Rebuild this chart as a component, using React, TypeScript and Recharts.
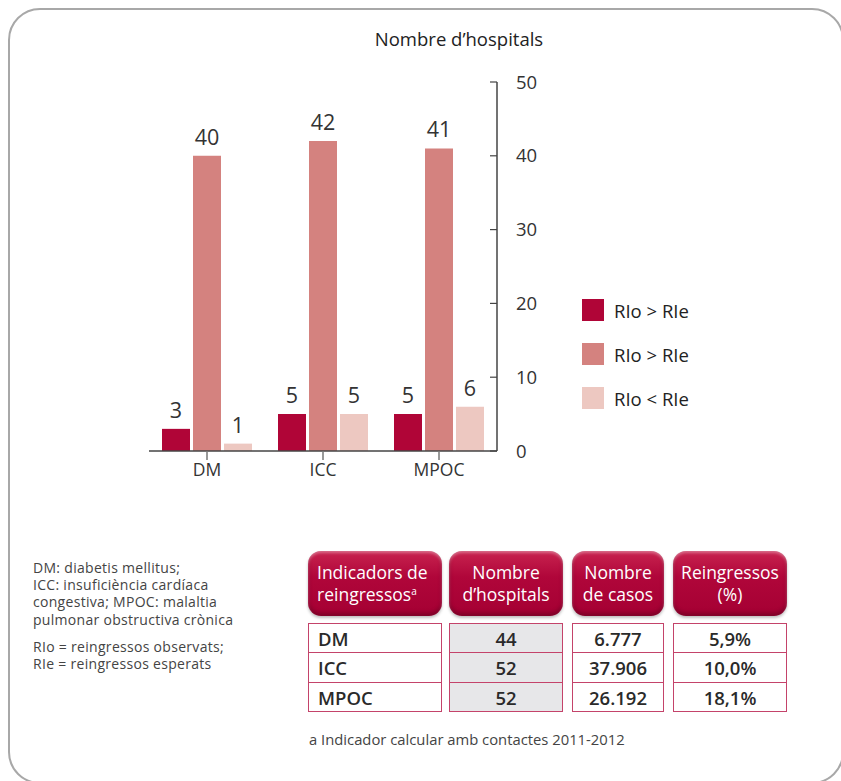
import { BarChart, Bar, XAxis, YAxis, LabelList } from 'recharts';

// categories and series
const categories = ['DM', 'ICC', 'MPOC'];
const serieA = [3, 5, 5]; // RIo > RIe (fosc)
const serieB = [40, 42, 41]; // RIo > RIe (mitjà)
const serieC = [1, 5, 6]; // RIo < RIe
const yTicks = [0, 10, 20, 30, 40, 50];

const seriesNames = ['RIo > RIe', 'RIo > RIe', 'RIo < RIe'];
const seriesColors = ['#b00537', '#d4827f', '#edc8c1'];

// table
const tableRows = ['DM', 'ICC', 'MPOC'];
const tableHospitals = ['44', '52', '52'];
const tableCasos = ['6.777', '37.906', '26.192'];
const tableReingressos = ['5,9%', '10,0%', '18,1%'];

const notesTop = [
  'DM: diabetis mellitus;',
  'ICC: insuficiència cardíaca',
  'congestiva; MPOC: malaltia',
  'pulmonar obstructiva crònica',
];
const notesBottom = ['RIo = reingressos observats;', 'RIe = reingressos esperats'];

const FONT = '"Open Sans", "Noto Sans", sans-serif';
const TEXT = '#333';

const data = categories.map((c, i) => ({
  name: c,
  a: serieA[i],
  b: serieB[i],
  c: serieC[i],
}));

const YTick = (props: any) => {
  const { x, y, payload } = props;
  return (
    <g>
      <line x1={x - 7} x2={x} y1={y} y2={y} stroke="#444" strokeWidth={1.2} />
      <text x={x + 19} y={y} dy="0.36em" fontSize={18.5} fill={TEXT} fontFamily={FONT}>
        {payload.value}
      </text>
    </g>
  );
};

const headerStyle: React.CSSProperties = {
  position: 'absolute',
  top: 551,
  height: 65,
  boxSizing: 'border-box',
  borderRadius: 13,
  background: 'linear-gradient(to bottom, #c8234f 0%, #b0063a 40%, #a50033 100%)',
  boxShadow: 'inset 0 2px 3px rgba(255,255,255,0.35), inset 0 -3px 4px rgba(0,0,0,0.25), 0 2px 3px rgba(0,0,0,0.25)',
  color: '#fff',
  fontSize: 17.5,
  lineHeight: '21.8px',
  display: 'flex',
  flexDirection: 'column',
  justifyContent: 'center',
  textAlign: 'center',
  whiteSpace: 'nowrap',
};

const cols = [
  { left: 308, width: 134 },
  { left: 449, width: 114 },
  { left: 572, width: 92 },
  { left: 673, width: 114 },
];

const rowTops = [623, 652, 682];
const rowH = [29, 30, 29];

const noteLine: React.CSSProperties = { height: 17.2, lineHeight: '17.2px', whiteSpace: 'nowrap' };

export default function App() {
  const cellCols = [tableRows, tableHospitals, tableCasos, tableReingressos];
  return (
    <div
      style={{
        position: 'absolute',
        left: 0,
        top: 0,
        width: 841,
        height: 781,
        overflow: 'hidden',
        background: '#fff',
        fontFamily: FONT,
      }}
    >
      {/* marc arrodonit */}
      <div
        style={{
          position: 'absolute',
          left: 8,
          top: 8,
          width: 836,
          height: 776,
          border: '2px solid #a8a8a8',
          borderRadius: 32,
          boxSizing: 'border-box',
        }}
      />

      <div style={{ position: 'absolute', left: 320, top: 26, width: 278, textAlign: 'center', fontSize: 18.5, color: '#222' }}>
        Nombre d’hospitals
      </div>

      <div style={{ position: 'absolute', left: 0, top: 0 }}>
        <BarChart
          width={841}
          height={500}
          data={data}
          margin={{ top: 82, right: 284, left: 149, bottom: 19 }}
          barSize={28}
          barGap={3}
        >
          <XAxis
            dataKey="name"
            axisLine={{ stroke: '#444', strokeWidth: 1.5 }}
            tickLine={{ stroke: '#777', strokeWidth: 1.5 }}
            tickSize={9}
            tickMargin={4}
            height={30}
            tick={{ fontSize: 17.5, fill: TEXT, fontFamily: FONT }}
          />
          <YAxis
            orientation="right"
            width={60}
            domain={[0, 50]}
            ticks={yTicks}
            interval={0}
            axisLine={{ stroke: '#444', strokeWidth: 1.5 }}
            tickLine={false}
            tickSize={0}
            tickMargin={0}
            tick={<YTick />}
          />
          <Bar dataKey="a" name={seriesNames[0]} fill={seriesColors[0]} isAnimationActive={false}>
            <LabelList dataKey="a" position="top" offset={11} fontSize={21.5} fill={TEXT} fontFamily={FONT} />
          </Bar>
          <Bar dataKey="b" name={seriesNames[1]} fill={seriesColors[1]} isAnimationActive={false}>
            <LabelList dataKey="b" position="top" offset={11} fontSize={21.5} fill={TEXT} fontFamily={FONT} />
          </Bar>
          <Bar dataKey="c" name={seriesNames[2]} fill={seriesColors[2]} isAnimationActive={false}>
            <LabelList dataKey="c" position="top" offset={11} fontSize={21.5} fill={TEXT} fontFamily={FONT} />
          </Bar>
        </BarChart>
      </div>

      {/* llegenda */}
      <div style={{ position: 'absolute', left: 582, top: 299 }}>
        {seriesNames.map((n, i) => (
          <div key={i} style={{ display: 'flex', alignItems: 'center', height: 22, marginBottom: 22 }}>
            <div style={{ width: 22, height: 22, background: seriesColors[i], marginRight: 10 }} />
            <span style={{ fontSize: 18.5, color: '#222', fontWeight: 500, whiteSpace: 'nowrap' }}>{n}</span>
          </div>
        ))}
      </div>

      {/* notes */}
      <div style={{ position: 'absolute', left: 33, top: 559, fontSize: 14, color: '#444', letterSpacing: 0.3 }}>
        {notesTop.map((t) => (
          <div key={t} style={noteLine}>{t}</div>
        ))}
        <div style={{ height: 10 }} />
        {notesBottom.map((t) => (
          <div key={t} style={noteLine}>{t}</div>
        ))}
      </div>

      {/* capçaleres */}
      <div style={{ ...headerStyle, left: cols[0].left, width: cols[0].width, textAlign: 'left', paddingLeft: 9 }}>
        <div>Indicadors de</div>
        <div>
          reingressos<sup style={{ fontSize: 10, verticalAlign: 'top', lineHeight: '14px' }}>a</sup>
        </div>
      </div>
      <div style={{ ...headerStyle, left: cols[1].left, width: cols[1].width }}>
        <div>Nombre</div>
        <div>d’hospitals</div>
      </div>
      <div style={{ ...headerStyle, left: cols[2].left, width: cols[2].width }}>
        <div>Nombre</div>
        <div>de casos</div>
      </div>
      <div style={{ ...headerStyle, left: cols[3].left, width: cols[3].width }}>
        <div>Reingressos</div>
        <div>(%)</div>
      </div>

      {/* files */}
      {cellCols.map((col, ci) =>
        col.map((v, ri) => (
          <div
            key={`${ci}-${ri}`}
            style={{
              position: 'absolute',
              left: cols[ci].left,
              top: rowTops[ri],
              width: cols[ci].width,
              height: rowH[ri] + 1,
              boxSizing: 'border-box',
              border: '1.5px solid #c4436a',
              background: ci === 1 ? '#e7e7e9' : '#fff',
              fontSize: 18.5,
              color: '#2a2a2a',
              fontWeight: 600,
              display: 'flex',
              alignItems: 'center',
              justifyContent: ci === 0 ? 'flex-start' : 'center',
              paddingLeft: ci === 0 ? 9 : 0,
            }}
          >
            {v}
          </div>
        )),
      )}

      <div style={{ position: 'absolute', left: 309, top: 729, fontSize: 14.8, color: '#444', whiteSpace: 'nowrap' }}>
        a Indicador calcular amb contactes 2011-2012
      </div>
    </div>
  );
}
